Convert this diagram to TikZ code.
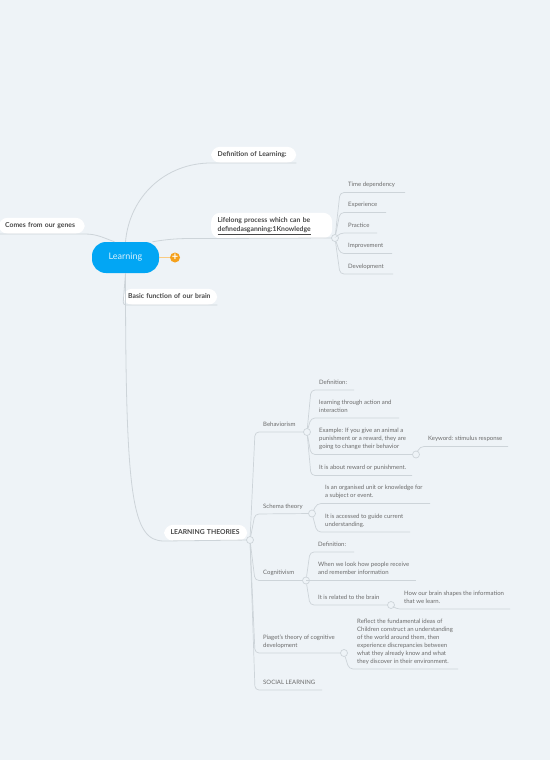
\documentclass[tikz,border=0pt]{standalone}
\usepackage{fontspec}
\setmainfont{Lato}
\definecolor{paper}{HTML}{EEF3F7}
\definecolor{wire}{HTML}{CDD4D9}
\definecolor{sky}{HTML}{02A6F4}
\definecolor{amber}{HTML}{F5A11C}
\begin{document}
\begin{tikzpicture}[
x=1pt,y=-1pt,
bubble/.style={anchor=south west,fill=white,rounded corners=9pt,align=left,inner xsep=6.5pt,inner ysep=3.5pt,text=black!72,text width=#1,font=\fontsize{6.8}{9}\selectfont\bfseries,execute at begin node=\strut,execute at end node=\strut},
leaf/.style={anchor=south west,align=left,inner xsep=8pt,inner ysep=3.4pt,text=black!58,font=\fontsize{6}{8}\selectfont,execute at begin node=\strut,execute at end node=\strut},
hub/.style={draw=wire,fill=paper,circle,inner sep=0pt,minimum size=7pt,line width=.7pt},
branch/.style={draw=wire,line width=.7pt,rounded corners=4pt},
limb/.style={draw=wire,line width=.8pt}
]
\fill[paper] (0,0) rectangle (550,760);
\useasboundingbox (0,0) rectangle (550,760);

\node[fill=sky,rounded corners=14pt,minimum width=67pt,minimum height=31pt,inner sep=0pt,text=white!85!sky,font=\fontsize{9}{11}\selectfont] (learning) at (125.5,257.5) {\raisebox{-2pt}{Learning}};
\node[circle,fill=amber,text=white,inner sep=0pt,minimum size=10pt,font=\fontsize{11}{11}\selectfont\bfseries] (more) at (175,257.5) {+};

\node[bubble=72] (definition) at (211,163) {Definition of Learning:};
\node[bubble=73] (genes) at (-1.5,234) {Comes from our genes};
\node[bubble=108] (lifelong) at (211,238.5) {Lifelong process which can be\\\underline{definedasganning:1Knowledge}};
\node[bubble=84,inner xsep=5pt] (basic) at (123,305) {Basic function of our brain};
\node[bubble=70] (theories) at (164,541) {LEARNING THEORIES};

\node[hub] (hlife) at (335,238) {};
\node[hub] (htheories) at (250,540) {};
\node[hub] (hbehav) at (307,432) {};
\node[hub] (hkey) at (416,454.5) {};
\node[hub] (hschema) at (312,513.5) {};
\node[hub] (hcog) at (306,580.5) {};
\node[hub] (hbrain) at (391,605) {};
\node[hub] (hpiaget) at (344,653) {};

\node[leaf] (time) at (340,192.5) {Time dependency};
\node[leaf] (experience) at (340,212.5) {Experience};
\node[leaf] (practice) at (340,233) {Practice};
\node[leaf] (improvement) at (340,253.5) {Improvement};
\node[leaf] (development) at (340,274) {Development};

\node[leaf] (behaviorism) at (255,432) {Behaviorism};
\node[leaf] (schema) at (255,514) {Schema theory};
\node[leaf] (cognitivism) at (255,580.5) {Cognitivism};
\node[leaf] (piaget) at (255,653) {Piaget's theory of cognitive\\development};
\node[leaf] (social) at (255,690) {SOCIAL LEARNING};

\node[leaf] (bdefinition) at (311,390) {Definition:};
\node[leaf] (action) at (311,418) {learning through action and\\interaction};
\node[leaf] (example) at (311,454.5) {Example: If you give an animal a\\punishment or a reward, they are\\going to change their behavior};
\node[leaf] (reward) at (311,475.5) {It is about reward or punishment.};
\node[leaf] (keyword) at (420,446.5) {Keyword: stimulus response};

\node[leaf] (organised) at (317,503.5) {Is an organised unit or knowledge for\\a subject or event.};
\node[leaf] (accessed) at (317,532) {It is accessed to guide current\\understanding.};

\node[leaf] (cdefinition) at (310,552) {Definition:};
\node[leaf] (receive) at (310,580.5) {When we look how people receive\\and remember information};
\node[leaf] (related) at (310,605) {It is related to the brain};
\node[leaf] (shapes) at (396,609) {How our brain shapes the information\\that we learn.};
\node[leaf] (reflect) at (349,669) {Reflect the fundamental ideas of\\Children construct an understanding\\of the world around them, then\\experience discrepancies between\\what they already know and what\\they discover in their environment.};

\draw[amber!55,line width=.8pt] (learning.east) -- (more);
\draw[limb] (learning.north) to[out=85,in=180] (definition.south west) -- (definition.south east);
\draw[limb] ([xshift=-11pt]learning.north) to[out=160,in=0] (genes.south east) -- (genes.south west);
\draw[limb] ([xshift=27pt]learning.north) to[out=10,in=180] (lifelong.south west) -- (hlife);
\draw[limb,rounded corners=3pt] (learning.south) -- (basic.south west) -- (basic.south east);
\draw[limb] (learning.south) .. controls +(0,225) and +(-32,0) .. (theories.south west) -- (htheories);

\draw[branch] (hlife) -- (time.south west) -- ++(65,0);
\draw[branch] (hlife) -- (experience.south west) -- ++(46,0);
\draw[branch] (hlife) -- (practice.south west) -- ++(37,0);
\draw[branch] (hlife) -- (improvement.south west) -- ++(52,0);
\draw[branch] (hlife) -- (development.south west) -- ++(53,0);

\draw[branch] (htheories) -- (behaviorism.south west) -- (hbehav);
\draw[branch] (htheories) -- (schema.south west) -- (hschema);
\draw[branch] (htheories) -- (cognitivism.south west) -- (hcog);
\draw[branch] (htheories) -- (piaget.south west) -- (hpiaget);
\draw[branch] (htheories) -- (social.south west) -- ++(67,0);

\draw[branch] (hbehav) -- (bdefinition.south west) -- ++(43,0);
\draw[branch] (hbehav) -- (action.south west) -- ++(88,0);
\draw[branch] (hbehav) -- (example.south west) -- (hkey);
\draw[branch] (hbehav) -- (reward.south west) -- ++(101,0);
\draw[branch] (hkey) -- (keyword.south west) -- ++(88,0);

\draw[branch] (hschema) -- (organised.south west) -- ++(113,0);
\draw[branch] (hschema) -- (accessed.south west) -- ++(93,0);

\draw[branch] (hcog) -- (cdefinition.south west) -- ++(44,0);
\draw[branch] (hcog) -- (receive.south west) -- ++(106,0);
\draw[branch] (hcog) -- (related.south west) -- (hbrain);
\draw[branch] (hbrain) -- (shapes.south west) -- ++(114,0);
\draw[branch] (hpiaget) -- (reflect.south west) -- ++(109,0);
\end{tikzpicture}
\end{document}
